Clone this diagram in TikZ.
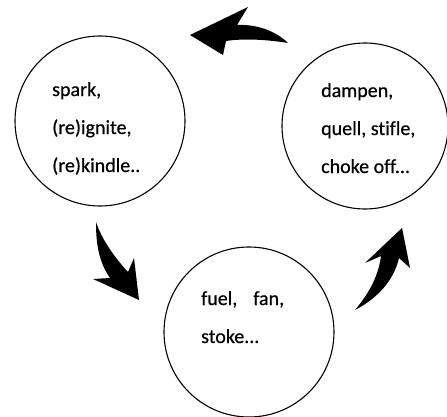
\documentclass[tikz,border=0pt]{standalone}
\usepackage{fontspec}
\setmainfont{Carlito}[Ligatures=NoCommon, FakeBold=0.6]

\tikzset{
  ring/.style={draw, circle, line width=1.1pt, minimum size=170pt, inner sep=0pt},
  words/.style={anchor=base west, align=left, inner sep=0pt, font=\fontsize{20}{38}\selectfont},
  swoosh/.style={fill=black}
}

\begin{document}
\begin{tikzpicture}[x=1pt,y=-1pt]
            \useasboundingbox (0,0) rectangle (447,417);
            % circles
            \node[ring] (spark) at (100,121) {};
            \node[ring, minimum size=166pt] (dampen) at (365,126) {};
            \node[ring] (fuel) at (249,332) {};

            % words (base = last line)
            \node[words] (sparktext) at (52,172) {spark,\\(re)ignite,\\(re)kindle..};
            \node[words] (dampentext) at (321,173) {dampen,\\quell, stifle,\\choke off...};
            \node[words] (fueltext) at (201,343) {fuel,\hspace{16pt}fan,\\stoke...};

            % arrows
            \fill[swoosh] (96,222) .. controls (102,240) and (115,258) .. (128,272) -- (134,258) -- (139,300) -- (93,279) -- (110,278) .. controls (99,262) and (96,245) .. cycle;
            \fill[swoosh] (355,310) .. controls (365,298) and (378,280) .. (381,256) -- (365,263) -- (402,228) -- (410,268) -- (399,258) .. controls (394,280) and (378,298) .. cycle;
            \fill[swoosh] (288,43) .. controls (278,33) and (260,24) .. (237,25) -- (248,7) -- (190,35) -- (223,55) -- (226,41) .. controls (245,38) and (270,40) .. cycle;
\end{tikzpicture}
\end{document}
